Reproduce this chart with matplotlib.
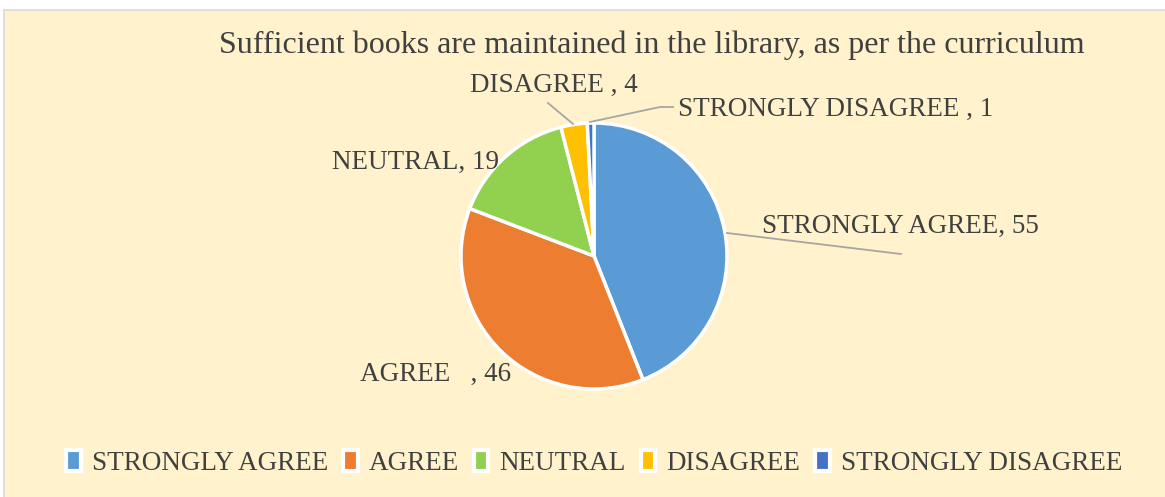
import matplotlib
matplotlib.use("Agg")
import matplotlib.pyplot as plt
from matplotlib.patches import Rectangle, Patch

categories = ["STRONGLY AGREE", "AGREE", "NEUTRAL", "DISAGREE", "STRONGLY DISAGREE"]
values = [55, 46, 19, 4, 1]
label_texts = ["STRONGLY AGREE, 55", "AGREE   , 46", "NEUTRAL, 19", "DISAGREE , 4", "STRONGLY DISAGREE , 1"]
colors = ["#5B9BD5", "#ED7D31", "#92D050", "#FFC000", "#4472C4"]
title = "Sufficient books are maintained in the library, as per the curriculum"

W, H = 1165, 497
plt.rcParams["font.family"] = ["Liberation Serif", "DejaVu Serif"]
txtc = "#404040"

fig = plt.figure(figsize=(W / 100, H / 100), dpi=100, facecolor="white")
fig.patches.append(Rectangle((4 / W, -0.1), 1.2, 1.1 - 10 / H, transform=fig.transFigure,
                             facecolor="#FFF2CC", edgecolor="#D9D9D9", linewidth=1.2, zorder=-5))

cx, cy, r = 594, 256, 133
ax = fig.add_axes([0, 0, 1, 1])
ax.patch.set_alpha(0)

wedges, _ = ax.pie(values, colors=colors, startangle=90, counterclock=False, radius=1,
                   wedgeprops=dict(edgecolor="white", linewidth=2.5))
ax.set_aspect("auto")
ax.set_xlim(-cx / r, (W - cx) / r)
ax.set_ylim(-(H - cy) / r, cy / r)
ax.axis("off")

def d(px, py):
    return ((px - cx) / r, (cy - py) / r)

fs = 19.5
lc = "#A6A6A6"
# Strongly agree
ax.text(*d(762, 226), label_texts[0], ha="left", va="center", fontsize=fs, color=txtc)
ax.plot(*zip(d(727, 233), d(901, 254)), color=lc, lw=1.3)
# Agree
ax.text(*d(360, 374), label_texts[1], ha="left", va="center", fontsize=fs, color=txtc)
# Neutral
ax.text(*d(332, 162), label_texts[2], ha="left", va="center", fontsize=fs, color=txtc)
# Disagree
ax.text(*d(470, 85), label_texts[3], ha="left", va="center", fontsize=fs, color=txtc)
ax.plot(*zip(d(548, 103), d(573, 124)), color=lc, lw=1.3)
# Strongly disagree
ax.text(*d(678, 109), label_texts[4], ha="left", va="center", fontsize=fs, color=txtc)
ax.plot(*zip(d(590, 122), d(660, 107), d(673, 107)), color=lc, lw=1.3)

fig.text(652 / W, 1 - 45 / H, title, ha="center", va="center", fontsize=23, color=txtc)

handles = [Patch(facecolor=c, edgecolor="white", linewidth=3) for c in colors]
fig.legend(handles, categories, loc="center", bbox_to_anchor=(594 / W, 1 - 463 / H),
           ncol=5, frameon=False, fontsize=fs, handlelength=0.55, handleheight=0.8,
           handletextpad=0.4, columnspacing=0.55, labelcolor=txtc)

fig.savefig("out.png", dpi=100, facecolor="white")
